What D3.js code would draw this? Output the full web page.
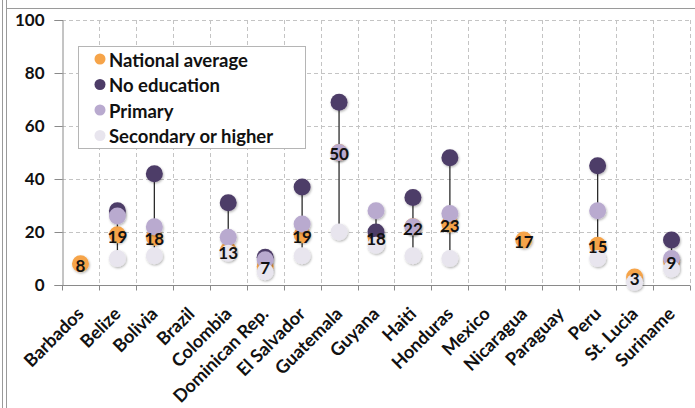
<!DOCTYPE html>
<html><head><meta charset="utf-8">
<script src="https://cdn.jsdelivr.net/npm/d3@7"></script>
<style>
html,body{margin:0;padding:0;background:#fff;}
svg{display:block;}
text{font-family:Lato,"Open Sans",sans-serif;font-weight:700;fill:#111;}
</style></head>
<body>
<svg id="c" width="695" height="408"></svg>
<script>
const categories = ["Barbados","Belize","Bolivia","Brazil","Colombia","Dominican Rep.","El Salvador","Guatemala","Guyana","Haiti","Honduras","Mexico","Nicaragua","Paraguay","Peru","St. Lucia","Suriname"];
const nationalAverage = [8,19,18,null,13,7,19,50,18,22,23,null,17,null,15,3,9];
const noEducation     = [null,28,42,null,31,10.5,37,69,20,33,48,null,null,null,45,null,17];
const primary         = [null,26,22,null,18,9.5,23,50,28,22,27,null,null,null,28,null,10];
const secondary       = [null,10,11,null,12,5,11,20,15,11,10,null,null,null,10,1,6];
const yTicks = [0,20,40,60,80,100];
const seriesNames = ["National average","No education","Primary","Secondary or higher"];
const seriesColors = ["#F6A449","#4D3C67","#B9AACF","#E8E5EE"];

const svg = d3.select("#c");
// outer frame
svg.append("line").attr("x1",2.5).attr("x2",2.5).attr("y1",0).attr("y2",408).attr("stroke","#9a9a9a").attr("stroke-width",1);
svg.append("line").attr("x1",6.5).attr("x2",6.5).attr("y1",0).attr("y2",408).attr("stroke","#9a9a9a").attr("stroke-width",1);
svg.append("line").attr("x1",6.5).attr("x2",695).attr("y1",8.5).attr("y2",8.5).attr("stroke","#9a9a9a").attr("stroke-width",1.2);

const x = d3.scaleBand().domain(categories).range([62,690]).padding(0);
const y = d3.scaleLinear().domain([0,100]).range([285,20]);

const defs = svg.append("defs");
const f = defs.append("filter").attr("id","sh").attr("x","-50%").attr("y","-50%").attr("width","200%").attr("height","200%");
f.append("feDropShadow").attr("dx",0.8).attr("dy",1.2).attr("stdDeviation",1).attr("flood-color","#000").attr("flood-opacity",0.3);

// grid
const grid = svg.append("g");
yTicks.filter(t=>t>0).forEach(t=>{
  grid.append("line").attr("x1",62).attr("x2",690).attr("y1",Math.round(y(t))+0.5).attr("y2",Math.round(y(t))+0.5)
    .attr("stroke","#c4c4c4").attr("stroke-dasharray","4,3");
});
categories.forEach((c,i)=>{
  const xx = x(c)+x.bandwidth();
  grid.append("line").attr("x1",Math.round(xx)+0.5).attr("x2",Math.round(xx)+0.5).attr("y1",y(100)).attr("y2",y(0))
    .attr("stroke","#c4c4c4").attr("stroke-dasharray","4,3");
});

// axes
const yAxis = d3.axisLeft(y).tickValues(yTicks).tickSize(8).tickPadding(10);
const gy = svg.append("g").attr("transform","translate(62.5,0)").call(yAxis);
gy.select(".domain").attr("stroke","#8a8a8a");
gy.selectAll(".tick line").attr("stroke","#8a8a8a");
gy.selectAll(".tick text").attr("font-size",17).attr("fill","#111").attr("font-family","Lato,sans-serif").attr("font-weight",700);

const gx = svg.append("g").attr("transform","translate(0,285.5)");
gx.append("line").attr("x1",62).attr("x2",690).attr("stroke","#8a8a8a");
const bounds = [x(categories[0])].concat(categories.map(c=>x(c)+x.bandwidth()));
bounds.forEach(b=>gx.append("line").attr("x1",Math.round(b)+0.5).attr("x2",Math.round(b)+0.5).attr("y1",0).attr("y2",5).attr("stroke","#8a8a8a"));
categories.forEach(c=>{
  const cx = x(c)+x.bandwidth()/2;
  gx.append("text").attr("transform",`translate(${cx},25) rotate(-45)`)
    .attr("text-anchor","end").attr("dy","0.35em").attr("font-size",18).text(c);
});

// connector lines
const rows = categories.map((c,i)=>({c,i,n:nationalAverage[i],e:noEducation[i],p:primary[i],s:secondary[i]}));
const plot = svg.append("g");
rows.forEach(r=>{
  const vals=[r.e,r.p,r.s].filter(v=>v!=null);
  if(vals.length>1){
    const cx=x(r.c)+x.bandwidth()/2;
    plot.append("line").attr("x1",cx).attr("x2",cx).attr("y1",y(d3.max(vals))).attr("y2",y(d3.min(vals)))
      .attr("stroke","#2b2b2b").attr("stroke-width",1.3);
  }
});
const seriesArr=[nationalAverage,noEducation,primary,secondary];
seriesArr.forEach((arr,k)=>{
  plot.append("g").selectAll("circle").data(categories.map((c,i)=>({c,v:arr[i]})).filter(d=>d.v!=null))
    .join("circle").attr("cx",d=>x(d.c)+x.bandwidth()/2).attr("cy",d=>y(d.v)).attr("r",8.5)
    .attr("fill",seriesColors[k]).attr("filter","url(#sh)");
});
// labels
plot.append("g").selectAll("text").data(rows.filter(r=>r.n!=null)).join("text")
  .attr("x",d=>x(d.c)+x.bandwidth()/2).attr("y",d=>y(d.n)+2).attr("dy","0.35em")
  .attr("text-anchor","middle").attr("font-size",17).text(d=>d.n);

// legend
const lg = svg.append("g");
lg.append("rect").attr("x",78.5).attr("y",46.5).attr("width",227).attr("height",102).attr("fill","#fff").attr("stroke","#b5b5b5");
seriesNames.forEach((n,k)=>{
  const yy = 60.5 + k*25.5;
  lg.append("circle").attr("cx",100).attr("cy",yy-1.5).attr("r",5.5).attr("fill",seriesColors[k]);
  lg.append("text").attr("x",109).attr("y",yy).attr("dy","0.35em").attr("font-size",18.5).text(n);
});
</script>
</body></html>
